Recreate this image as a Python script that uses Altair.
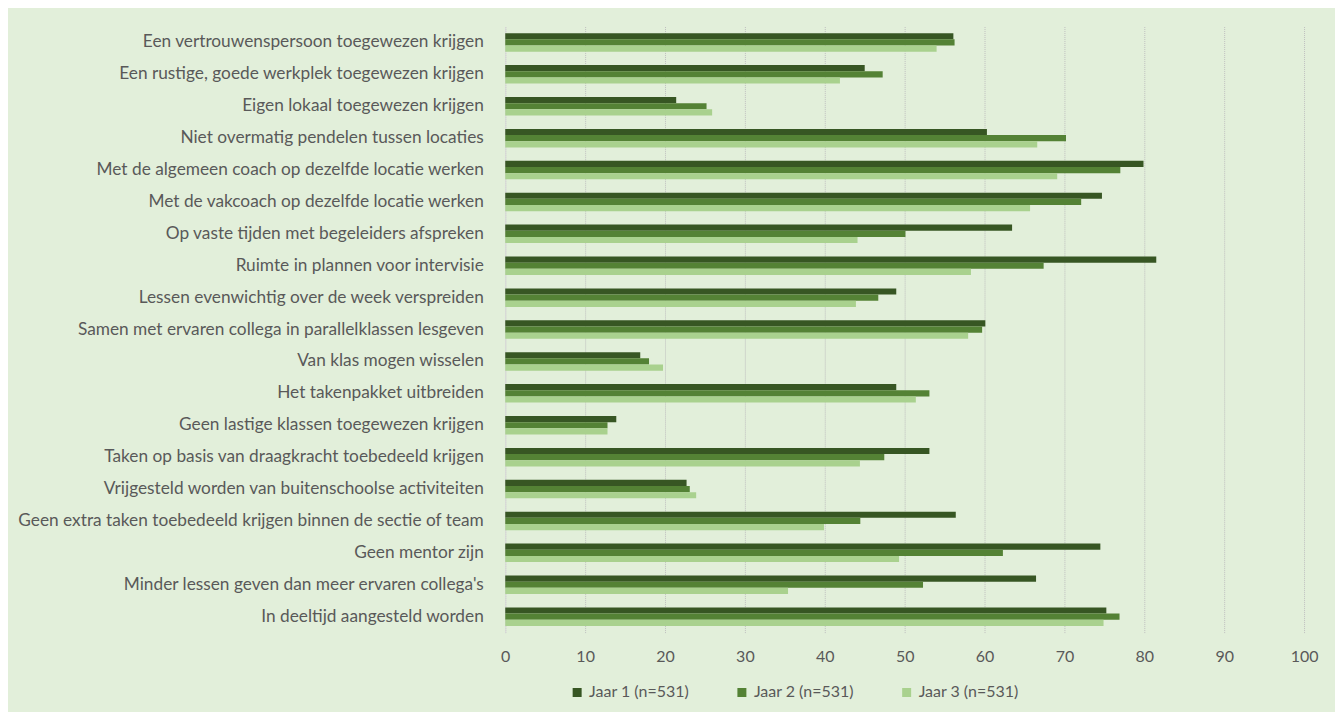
import altair as alt
import pandas as pd

categories = [
    "Een vertrouwenspersoon toegewezen krijgen",
    "Een rustige, goede werkplek toegewezen krijgen",
    "Eigen lokaal toegewezen krijgen",
    "Niet overmatig pendelen tussen locaties",
    "Met de algemeen coach op dezelfde locatie werken",
    "Met de vakcoach op dezelfde locatie werken",
    "Op vaste tijden met begeleiders afspreken",
    "Ruimte in plannen voor intervisie",
    "Lessen evenwichtig over de week verspreiden",
    "Samen met ervaren collega in parallelklassen lesgeven",
    "Van klas mogen wisselen",
    "Het takenpakket uitbreiden",
    "Geen lastige klassen toegewezen krijgen",
    "Taken op basis van draagkracht toebedeeld krijgen",
    "Vrijgesteld worden van buitenschoolse activiteiten",
    "Geen extra taken toebedeeld krijgen binnen de sectie of team",
    "Geen mentor zijn",
    "Minder lessen geven dan meer ervaren collega's",
    "In deeltijd aangesteld worden",
]

series_names = ["Jaar 1 (n=531)", "Jaar 2 (n=531)", "Jaar 3 (n=531)"]

jaar1 = [56.1, 45.0, 21.4, 60.3, 79.9, 74.7, 63.45, 81.5, 48.95, 60.1,
         16.9, 48.95, 13.9, 53.1, 22.7, 56.4, 74.5, 66.45, 75.25]
jaar2 = [56.25, 47.25, 25.2, 70.2, 77.0, 72.1, 50.1, 67.4, 46.7, 59.7,
         18.0, 53.1, 12.8, 47.45, 23.1, 44.45, 62.3, 52.3, 76.9]
jaar3 = [54.0, 41.9, 25.9, 66.6, 69.1, 65.7, 44.1, 58.3, 43.9, 57.95,
         19.75, 51.4, 12.8, 44.4, 23.9, 39.9, 49.3, 35.4, 74.9]

x_ticks = [0, 10, 20, 30, 40, 50, 60, 70, 80, 90, 100]

colors = ["#375623", "#548235", "#A9D18E"]

rows = []
for name, vals in zip(series_names, [jaar1, jaar2, jaar3]):
    for cat, v in zip(categories, vals):
        rows.append({"categorie": cat, "reeks": name, "waarde": v})
df = pd.DataFrame(rows)

FONT = "Lato"
TXT = "#595959"

chart = (
    alt.Chart(df)
    .mark_bar()
    .encode(
        y=alt.Y(
            "categorie:N",
            sort=categories,
            title=None,
            scale=alt.Scale(paddingInner=0.42, paddingOuter=0.21),
            axis=alt.Axis(
                ticks=False,
                domain=True,
                domainColor="#D9D9D9",
                domainWidth=1,
                labelPadding=22,
                labelLimit=600,
                labelFontSize=17.3,
                labelColor=TXT,
                labelFont=FONT,
                grid=False,
            ),
        ),
        yOffset=alt.YOffset(
            "reeks:N",
            sort=series_names,
            scale=alt.Scale(paddingInner=0, paddingOuter=0),
        ),
        x=alt.X(
            "waarde:Q",
            title=None,
            scale=alt.Scale(domain=[0, 100], nice=False),
            axis=alt.Axis(
                values=x_ticks,
                ticks=False,
                domain=False,
                grid=True,
                gridColor="#BFBFBF",
                gridDash=[1, 1],
                gridWidth=1,
                labelFlush=False,
                labelPadding=16,
                labelFontSize=16,
                labelColor=TXT,
                labelFont=FONT,
            ),
        ),
        color=alt.Color(
            "reeks:N",
            sort=series_names,
            scale=alt.Scale(domain=series_names, range=colors),
            legend=alt.Legend(
                title=None,
                orient="none",
                direction="horizontal",
                legendX=64,
                legendY=659,
                symbolType="square",
                symbolSize=81,
                symbolStrokeWidth=0,
                labelFontSize=16,
                labelColor=TXT,
                labelFont=FONT,
                labelOffset=4,
                columnPadding=44,
                padding=0,
            ),
        ),
    )
    .properties(
        width=800,
        height=607,
        background="#E2EFDA",
        padding={"left": 498, "top": 18, "right": 31, "bottom": 79},
        autosize=alt.AutoSizeParams(type="none"),
    )
    .configure_view(strokeWidth=0)
)

chart.save("out.html", embed_options={"renderer": "svg", "actions": False})
